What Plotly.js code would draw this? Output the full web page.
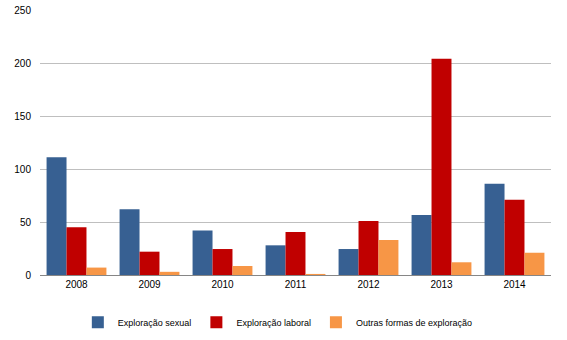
<!DOCTYPE html>
<html><head><meta charset="utf-8">
<script src="https://cdn.plot.ly/plotly-3.0.1.min.js"></script>
<style>html,body{margin:0;padding:0;background:#fff}#chart{width:567px;height:340px}</style>
</head><body><div id="chart"></div>
<script>
const years = ['2008','2009','2010','2011','2012','2013','2014'];
const sexual = [111, 62, 42, 28, 24.5, 56.5, 86];
const laboral = [45, 22, 24.5, 40.5, 51, 204, 71];
const outras = [7, 3, 8.5, 1, 33, 12, 21];
const names = ['Exploração sexual','Exploração laboral','Outras formas de exploração'];
const colors = ['#376092','#C00000','#F79646'];
const yTicks = [0,50,100,150,200,250];

const series = [sexual, laboral, outras];
const data = series.map((s,i)=>({type:'bar', x: years, y: s, name: names[i], marker:{color: colors[i]}}));
const layout = {
  width:567, height:340,
  margin:{l:40, r:16, t:9.5, b:65},
  paper_bgcolor:'#fff', plot_bgcolor:'#fff',
  font:{family:'Liberation Sans, Arial, sans-serif', size:10, color:'#000'},
  barmode:'group', bargap:0.18, bargroupgap:0,
  showlegend:true,
  legend:{orientation:'h', x:0.49, xanchor:'center', xref:'container', y:0.052, yanchor:'middle', yref:'container', font:{size:9}, itemwidth:30, traceorder:'normal', tracegroupgap:0},
  xaxis:{type:'category', showline:true, linecolor:'#868686', linewidth:1, ticks:'', tickfont:{size:10}},
  yaxis:{range:[0,250], tickvals:yTicks, showgrid:true, gridcolor:'#bfbfbf', zeroline:false, showline:false, ticks:'', tickfont:{size:10}, ticklabelstandoff:8}
};
Plotly.newPlot('chart', data, layout, {staticPlot:true});
</script></body></html>
